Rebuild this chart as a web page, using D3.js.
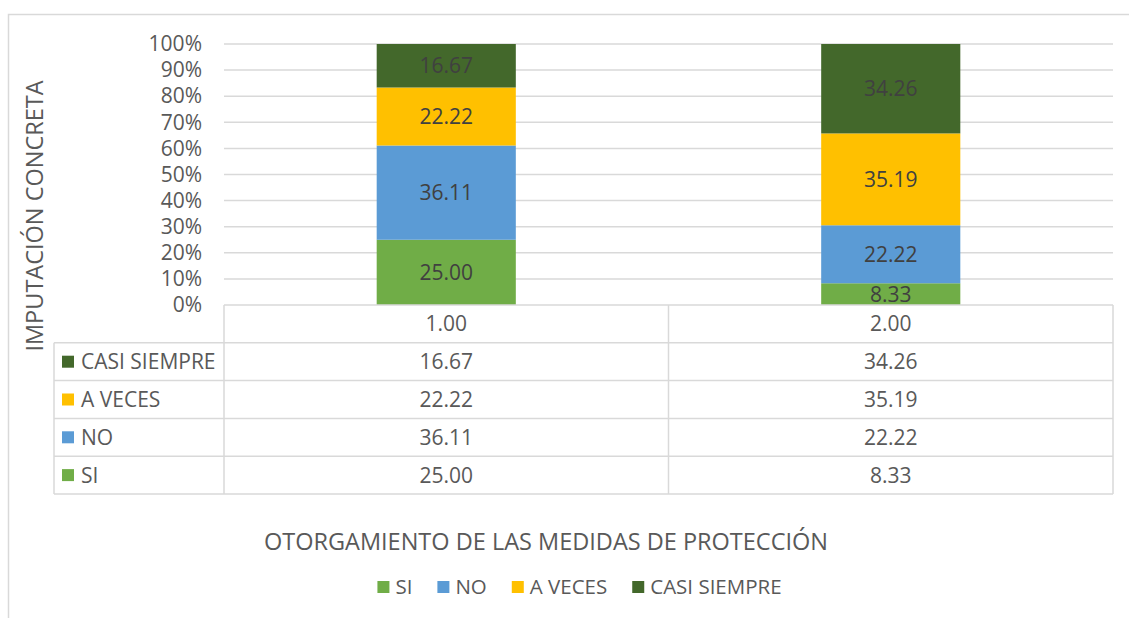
<!DOCTYPE html>
<html>
<head>
<meta charset="utf-8">
<script src="https://cdn.jsdelivr.net/npm/d3@7"></script>
<style>
    body { margin: 0; background: #fff; }
    svg { font-family: "Open Sans", "Noto Sans", sans-serif; }
</style>
</head>
<body>
<div id="chart"></div>
<script>
const categories = ['1.00', '2.00'];
const seriesNames = ['SI', 'NO', 'A VECES', 'CASI SIEMPRE'];
const siValues = [25.00, 8.33];
const noValues = [36.11, 22.22];
const aVecesValues = [22.22, 35.19];
const casiSiempreValues = [16.67, 34.26];
const yTicks = [0, 0.1, 0.2, 0.3, 0.4, 0.5, 0.6, 0.7, 0.8, 0.9, 1];
const xTitle = 'OTORGAMIENTO DE LAS MEDIDAS DE PROTECCIÓN';
const yTitle = 'IMPUTACIÓN CONCRETA';

const config = {
    width: 1129,
    height: 618,
    plotLeft: 224,
    plotRight: 1113,
    plotTop: 44,
    plotBottom: 305,
    tableLeft: 54,
    rowHeight: 37.8
};

const colorScale = d3.scaleOrdinal()
    .domain(seriesNames)
    .range(['#70AD47', '#5B9BD5', '#FFC000', '#43682B']);

const seriesValues = [siValues, noValues, aVecesValues, casiSiempreValues];

const rows = categories.map((c, i) => {
    const row = { category: c };
    seriesNames.forEach((s, j) => { row[s] = seriesValues[j][i]; });
    return row;
});

const stacked = d3.stack()
    .keys(seriesNames)
    .offset(d3.stackOffsetExpand)(rows);

const svg = d3.select('#chart')
    .append('svg')
    .attr('width', config.width)
    .attr('height', config.height);

// outer chart border (only top and left show in the frame)
svg.append('path')
    .attr('d', `M8.5,${config.height}V14.5H${config.width}`)
    .attr('fill', 'none')
    .attr('stroke', '#D9D9D9')
    .attr('stroke-width', 1.5);

const xScale = d3.scaleBand()
    .domain(categories)
    .range([config.plotLeft, config.plotRight])
    .paddingInner(0.687)
    .paddingOuter(0.3435);

const yScale = d3.scaleLinear()
    .domain([0, 1])
    .range([config.plotBottom, config.plotTop]);

// gridlines
svg.append('g')
    .selectAll('line')
    .data(yTicks.slice(1))
    .join('line')
    .attr('x1', config.plotLeft)
    .attr('x2', config.plotRight)
    .attr('y1', d => yScale(d))
    .attr('y2', d => yScale(d))
    .attr('stroke', '#D9D9D9')
    .attr('stroke-width', 1.5);

// y axis labels
svg.append('g')
    .attr('transform', `translate(${config.plotLeft},0)`)
    .call(d3.axisLeft(yScale).tickValues(yTicks).tickFormat(d3.format('.0%')).tickSize(0).tickPadding(22))
    .call(g => g.select('.domain').remove())
    .call(g => g.selectAll('text')
        .attr('font-family', '"Open Sans", sans-serif')
        .attr('font-size', 21)
        .attr('fill', '#595959'));

// bars
const layers = svg.append('g')
    .selectAll('g')
    .data(stacked)
    .join('g')
    .attr('fill', d => colorScale(d.key));

layers.selectAll('rect')
    .data(d => d)
    .join('rect')
    .attr('x', d => xScale(d.data.category))
    .attr('width', xScale.bandwidth())
    .attr('y', d => yScale(d[1]))
    .attr('height', d => yScale(d[0]) - yScale(d[1]));

layers.selectAll('text')
    .data(d => d.map(p => ({ p, key: d.key })))
    .join('text')
    .attr('x', d => xScale(d.p.data.category) + xScale.bandwidth() / 2)
    .attr('y', d => (yScale(d.p[0]) + yScale(d.p[1])) / 2)
    .attr('dy', '0.36em')
    .attr('text-anchor', 'middle')
    .attr('font-size', 21)
    .attr('fill', '#404040')
    .text(d => d.p.data[d.key].toFixed(2));

// data table
const table = svg.append('g')
    .attr('stroke', '#D9D9D9')
    .attr('stroke-width', 1.5);

const tableRows = seriesNames.slice().reverse();
const tableBottom = config.plotBottom + config.rowHeight * (tableRows.length + 1);

table.append('line')
    .attr('x1', config.plotLeft).attr('x2', config.plotRight)
    .attr('y1', config.plotBottom).attr('y2', config.plotBottom);

tableRows.forEach((s, i) => {
    const y = config.plotBottom + config.rowHeight * (i + 1);
    table.append('line')
        .attr('x1', config.tableLeft).attr('x2', config.plotRight)
        .attr('y1', y).attr('y2', y);
});
table.append('line')
    .attr('x1', config.tableLeft).attr('x2', config.plotRight)
    .attr('y1', tableBottom).attr('y2', tableBottom);

table.append('line')
    .attr('x1', config.tableLeft).attr('x2', config.tableLeft)
    .attr('y1', config.plotBottom + config.rowHeight).attr('y2', tableBottom);

[config.plotLeft, (config.plotLeft + config.plotRight) / 2, config.plotRight].forEach(x => {
    table.append('line')
        .attr('x1', x).attr('x2', x)
        .attr('y1', config.plotBottom).attr('y2', tableBottom);
});

const cellText = svg.append('g')
    .attr('font-size', 21)
    .attr('fill', '#595959');

categories.forEach((c, ci) => {
    const cx = xScale(c) + xScale.bandwidth() / 2;
    cellText.append('text')
        .attr('x', cx)
        .attr('y', config.plotBottom + config.rowHeight / 2)
        .attr('dy', '0.36em')
        .attr('text-anchor', 'middle')
        .text(c);
    tableRows.forEach((s, i) => {
        const vals = seriesValues[seriesNames.indexOf(s)];
        cellText.append('text')
            .attr('x', cx)
            .attr('y', config.plotBottom + config.rowHeight * (i + 1.5))
            .attr('dy', '0.36em')
            .attr('text-anchor', 'middle')
            .text(vals[ci].toFixed(2));
    });
});

tableRows.forEach((s, i) => {
    const cy = config.plotBottom + config.rowHeight * (i + 1.5);
    svg.append('rect')
        .attr('x', 62)
        .attr('y', cy - 6)
        .attr('width', 12)
        .attr('height', 12)
        .attr('fill', colorScale(s));
    cellText.append('text')
        .attr('x', 81)
        .attr('y', cy)
        .attr('dy', '0.36em')
        .text(s);
});

// axis titles
svg.append('text')
    .attr('x', 546)
    .attr('y', 542)
    .attr('dy', '0.36em')
    .attr('text-anchor', 'middle')
    .attr('font-size', 23.5)
    .attr('fill', '#595959')
    .text(xTitle);

svg.append('text')
    .attr('transform', 'translate(35,216) rotate(-90)')
    .attr('dy', '0.36em')
    .attr('text-anchor', 'middle')
    .attr('font-size', 23.5)
    .attr('fill', '#595959')
    .text(yTitle);

// bottom legend
const legend = svg.append('g');
let lx = 0;
seriesNames.forEach(s => {
    const item = legend.append('g').attr('transform', `translate(${lx},0)`);
    item.append('rect')
        .attr('x', 0).attr('y', -6)
        .attr('width', 12).attr('height', 12)
        .attr('fill', colorScale(s));
    const t = item.append('text')
        .attr('x', 18)
        .attr('dy', '0.36em')
        .attr('font-size', 20.5)
        .attr('fill', '#595959')
        .text(s);
    lx += 18 + t.node().getComputedTextLength() + 25;
});
const legendWidth = lx - 25;
legend.attr('transform', `translate(${579.5 - legendWidth / 2},587)`);
</script>
</body>
</html>
